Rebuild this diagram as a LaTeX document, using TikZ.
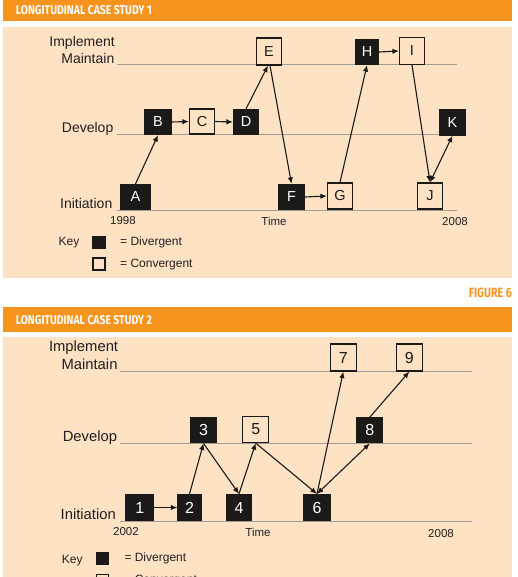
\documentclass[tikz,border=0pt]{standalone}
\usepackage{fontspec}
\setmainfont{Liberation Sans}
\setsansfont{Fira Sans}
\usepackage{graphicx}
\usetikzlibrary{arrows.meta}
\definecolor{hdr}{HTML}{F7941E}
\definecolor{peach}{HTML}{FDE2C4}
\definecolor{axisc}{HTML}{A39C95}
\definecolor{boxk}{HTML}{1C1A19}
\definecolor{txt}{HTML}{231F20}
\begin{document}
\begin{tikzpicture}[x=1pt,y=-1pt,
  lvl/.style={draw=axisc, line width=1pt},
  stagelbl/.style={anchor=base east, inner sep=0, text=txt, font=\fontsize{14}{14}\selectfont},
  stagelbltwo/.style={stagelbl, font=\fontsize{14.8}{14.8}\selectfont},
  axlbl/.style={anchor=base, inner sep=0, text=txt, font=\fontsize{11.5}{11.5}\selectfont},
  keylbl/.style={anchor=base west, inner sep=0, text=txt, font=\fontsize{12}{12}\selectfont},
  box/.style={draw=boxk, line width=1.2pt, inner sep=0, minimum width=25pt, minimum height=25pt, font=\fontsize{14.5}{14.5}\selectfont},
  dv/.style={box, fill=boxk, text=white},
  cv/.style={box, fill=peach, text=boxk},
  dvtwo/.style={dv, font=\fontsize{16}{16}\selectfont},
  cvtwo/.style={cv, font=\fontsize{16}{16}\selectfont},
  keysq/.style={draw=boxk, line width=1.2pt, inner sep=0, minimum size=12pt},
  arr/.style={draw=boxk, line width=1.1pt, -{Latex[length=6.5pt,width=5.5pt]}},
  darr/.style={draw=boxk, line width=1.1pt, {Latex[length=6.5pt,width=5.5pt]}-{Latex[length=6.5pt,width=5.5pt]}},
  hdrtxt/.style={anchor=base west, inner sep=0, text=white},
]
\useasboundingbox (0,0) rectangle (518,577);
\fill[white] (0,0) rectangle (518,577);
\begin{scope}
\clip (0,0) rectangle (518,577);

% ---------- Panel 1 ----------
\fill[hdr] (3,0) rectangle (512,21);
\node[hdrtxt] (h1) at (15.7,15) {\resizebox{136pt}{9pt}{\sffamily\bfseries LONGITUDINAL CASE STUDY 1}};
\fill[peach] (3,26.7) rectangle (512,277.7);

\draw[lvl] (117,65) -- (457,65);
\draw[lvl] (117,135) -- (457,135);
\draw[lvl] (117,210) -- (457,210);

\node[stagelbl] (impl1) at (115,46.7) {Implement};
\node[stagelbl] (main1) at (114.5,63.3) {Maintain};
\node[stagelbl] (dev1) at (113.5,132.3) {Develop};
\node[stagelbl] (ini1) at (112.5,208.3) {Initiation};

\node[axlbl] (y1a) at (123,224) {1998};
\node[axlbl] (t1) at (274,225) {Time};
\node[axlbl] (y1b) at (455,225.5) {2008};

\node[dv, minimum width=29pt] (A) at (135.5,197) {A};
\node[dv, minimum width=26pt] (B) at (158,122) {B};
\node[cv] (C) at (202,121.5) {C};
\node[dv] (D) at (246,122) {D};
\node[cv, minimum height=27pt] (E) at (269,51.5) {E};
\node[dv, minimum width=26pt] (F) at (291.5,197) {F};
\node[cv, minimum height=26pt] (G) at (340,196) {G};
\node[dv, minimum width=23pt] (H) at (367,52) {H};
\node[cv, minimum height=27pt] (I) at (412,51) {I};
\node[cv, minimum height=26pt] (J) at (430,196) {J};
\node[dv] (K) at (452.5,122.5) {K};

\draw[arr] (A.north) -- (B.south);
\draw[arr] (B.east) -- (C.west);
\draw[arr] (C.east) -- (D.west);
\draw[arr] (D.north) -- ([xshift=-1pt]E.south);
\draw[arr] ([xshift=1pt]E.south) -- (F.north);
\draw[arr] (F.east) -- (G.west);
\draw[arr] (G.north) -- (H.south);
\draw[arr] (H.east) -- (I.west);
\draw[arr] (I.south) -- (J.north);
\draw[darr] (J.north) -- (K.south);

\node[keylbl] (key1) at (58.5,245) {Key};
\node[keysq, fill=boxk] (kd1) at (99,242.3) {};
\node[keysq, fill=peach] (kc1) at (99,264) {};
\node[keylbl] (kdl1) at (120,245.7) {= Divergent};
\node[keylbl] (kcl1) at (120,267.3) {= Convergent};

\node[anchor=base east, inner sep=0, text=hdr] (fig6) at (512,297.7) {\resizebox{43pt}{9.5pt}{\sffamily\bfseries FIGURE 6}};

% ---------- Panel 2 ----------
\fill[hdr] (3,306.7) rectangle (512,331.7);
\node[hdrtxt] (h2) at (15.7,324.5) {\resizebox{136pt}{9pt}{\sffamily\bfseries LONGITUDINAL CASE STUDY 2}};
\fill[peach] (3,336.7) rectangle (512,577);

\draw[lvl] (120,371.7) -- (472,371.7);
\draw[lvl] (120,443.3) -- (472,443.3);
\draw[lvl] (120,521) -- (472,521);

\node[stagelbltwo] (impl2) at (118.3,351.7) {Implement};
\node[stagelbltwo] (main2) at (117.7,369.3) {Maintain};
\node[stagelbltwo] (dev2) at (117.3,441) {Develop};
\node[stagelbltwo] (ini2) at (116,519) {Initiation};

\node[axlbl] (y2a) at (126,535.7) {2002};
\node[axlbl] (t2) at (258,536) {Time};
\node[axlbl] (y2b) at (441,537.5) {2008};

\node[dvtwo, minimum width=28pt, minimum height=26pt] (n1) at (139.7,507.5) {1};
\node[dvtwo, minimum width=23pt, minimum height=26pt] (n2) at (189.5,507.5) {2};
\node[dvtwo, minimum width=26pt] (n3) at (203.5,430.3) {3};
\node[dvtwo, minimum height=26pt] (n4) at (239,507.5) {4};
\node[cvtwo, minimum width=26pt, minimum height=26pt] (n5) at (255.7,429.5) {5};
\node[dvtwo, minimum width=26pt, minimum height=26pt] (n6) at (317,507.5) {6};
\node[cvtwo, minimum width=26pt, minimum height=27pt] (n7) at (343.3,357.5) {7};
\node[dvtwo, minimum width=26pt] (n8) at (369.8,430.3) {8};
\node[cvtwo, minimum width=26pt, minimum height=27pt] (n9) at (409.3,357.5) {9};

\draw[arr] (n1.east) -- (n2.west);
\draw[arr] (n2.north) -- (n3.south);
\draw[arr] (n3.south) -- (n4.north);
\draw[arr] (n4.north) -- (n5.south);
\draw[arr] (n5.south) -- (n6.north);
\draw[arr] (n6.north) -- (n7.south);
\draw[darr] (n6.north) -- (n8.south);
\draw[arr] (n8.north) -- (n9.south);

\node[keylbl] (key2) at (61.7,563.3) {Key};
\node[keysq, fill=boxk] (kd2) at (102.5,558.7) {};
\node[keysq, fill=peach] (kc2) at (102.5,580.5) {};
\node[keylbl] (kdl2) at (124.3,561.7) {= Divergent};
\node[keylbl] (kcl2) at (124.3,583.5) {= Convergent};
\end{scope}
\end{tikzpicture}
\end{document}
